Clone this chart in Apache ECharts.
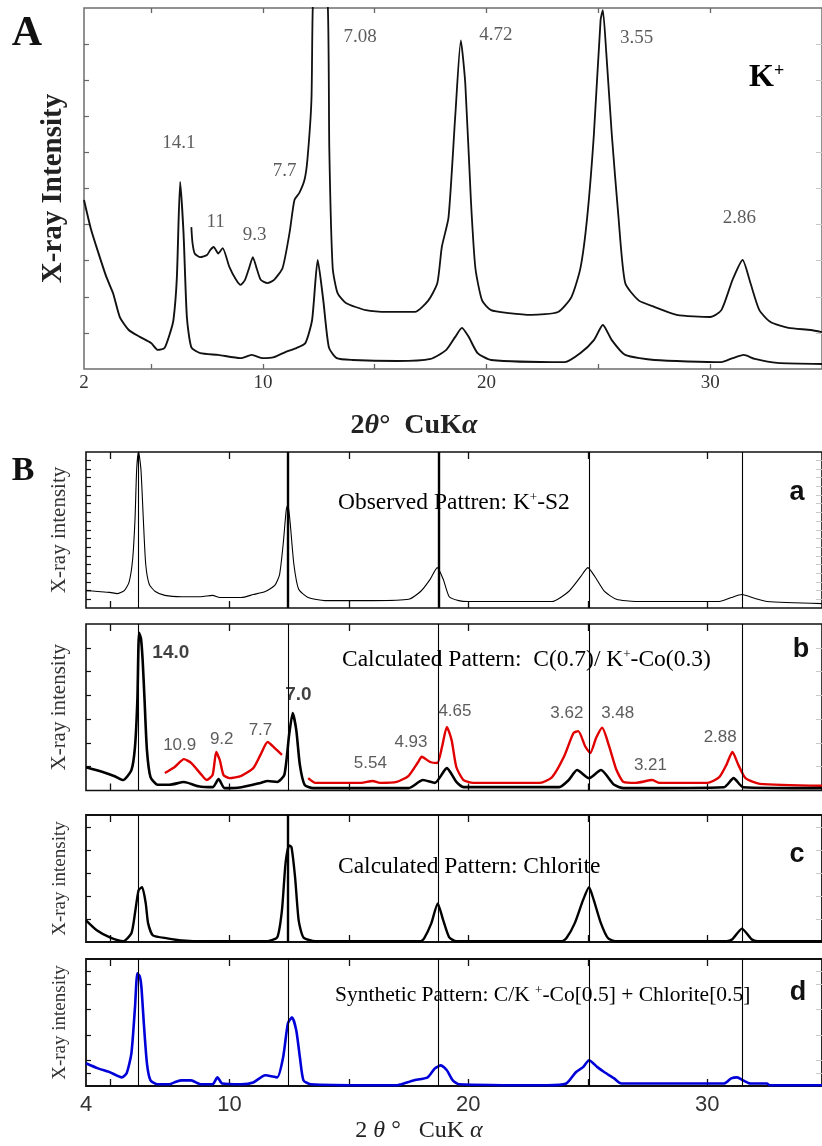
<!DOCTYPE html>
<html><head><meta charset="utf-8">
<script src="https://cdn.jsdelivr.net/npm/echarts@6/dist/echarts.min.js"></script>
<style>html,body{margin:0;padding:0;background:#fff}#c{width:822px;height:1146px}</style>
</head><body><div id="c"></div>
<script>
// ---------------- DATA ----------------
// Panel A: 2theta (deg) vs intensity (0-100 scale)
const A_lower = [[2.0,46.8],[2.3,39],[2.6,33],[3.0,25.5],[3.3,21],[3.6,14.4],[4.0,10.8],[4.5,8.9],[5.0,7.2],[5.3,5.3],[5.6,5.8],[5.85,10],[6.0,13.6],[6.15,25],[6.3,51.8],[6.45,37.7],[6.6,14.4],[6.8,6],[7.2,4.4],[8.0,3.9],[9.0,3],[9.5,3.9],[10.0,3],[10.5,3.3],[11.0,4.7],[11.5,5.8],[11.9,7.2],[12.2,13.6],[12.45,30.2],[12.7,19],[12.95,6],[13.3,3],[14,2.5],[16,2.2],[17.5,2.8],[18.2,5.3],[18.6,8.9],[18.9,11.4],[19.2,8.9],[19.6,4.4],[20.2,2.5],[23.5,1.9],[24.2,4.4],[24.8,8],[25.2,12.2],[25.6,8],[26.2,3.9],[27.5,2.5],[30.5,1.9],[31.0,3],[31.5,3.9],[32.0,2.8],[33,1.7],[35,1.4]];
const A_upper = [[6.8,39.3],[6.85,35],[6.95,32],[7.2,31],[7.5,31.6],[7.65,33],[7.8,33.8],[8.0,32],[8.2,33.5],[8.5,28.3],[8.8,24.7],[9.0,23.3],[9.2,24.7],[9.4,28.3],[9.55,31],[9.7,28.3],[9.9,24.7],[10.2,23.8],[10.5,24.7],[10.88,28],[11.19,37.7],[11.41,46.8],[11.63,48.8],[11.86,52.4],[11.99,58],[12.17,74.5],[12.23,100],[12.5,130],[12.9,101],[12.97,60.6],[13.12,28],[13.34,21],[13.71,18.3],[14.6,16.3],[15.6,15.8],[16.8,15.8],[17.4,19],[17.8,23.8],[18.0,33.8],[18.3,42],[18.6,70],[18.85,91],[19.05,79],[19.3,46.8],[19.5,28],[19.8,19],[20.2,16.3],[21,15.5],[22,15],[23.2,15.8],[23.8,20],[24.2,28],[24.5,42],[24.8,65],[25.1,96.7],[25.2,99.4],[25.35,88],[25.6,65],[25.9,42],[26.2,23.8],[26.8,19],[27.5,17.2],[28.5,15],[30.0,14.4],[30.5,16.3],[31.0,24.7],[31.45,30.2],[31.8,23.8],[32.2,16.3],[32.7,13],[33.5,11.4],[34.5,10.8],[35,10.2]];
const A_peakLabels = [['14.1',6.24,62.6],['11',7.89,40.7],['9.3',9.63,37.1],['7.7',10.97,54.8],['7.08',14.35,92.0],['4.72',20.42,92.5],['3.55',26.71,91.7],['2.86',31.3,41.8]];
const A_xTicks = [5,10,15,20,25,30];
const A_xLabels = [2,10,20,30];
const A_yTicks = [10,20,30,40,50,60,70,80,90];

// Panel B
const B_xTicks = [5,10,15,20,25,30];
const B_xLabels = [4,10,20,30];
const B_refLines = [6.2,12.45,18.75,25.05,31.45];
const Ba_observed = [[4.0,0.40],[4.5,0.38],[5.0,0.36],[5.3,0.33],[5.6,0.40],[5.8,0.59],[5.95,1.11],[6.05,2.03],[6.12,3.18],[6.2,3.6],[6.3,3.18],[6.4,2.03],[6.5,1.0],[6.65,0.54],[6.9,0.38],[7.3,0.29],[8.0,0.26],[8.8,0.26],[9.3,0.29],[9.6,0.24],[10.5,0.24],[11.0,0.31],[11.5,0.38],[11.9,0.52],[12.1,0.77],[12.25,1.46],[12.38,2.26],[12.45,2.38],[12.55,1.92],[12.7,1.0],[12.9,0.43],[13.3,0.24],[14,0.17],[16,0.17],[17.5,0.2],[18.0,0.38],[18.4,0.66],[18.7,0.93],[18.95,0.66],[19.2,0.26],[19.6,0.17],[20,0.15],[23.5,0.15],[24.2,0.38],[24.7,0.72],[25.0,0.93],[25.3,0.72],[25.7,0.38],[26.2,0.2],[27,0.15],[30.5,0.15],[31.0,0.24],[31.45,0.31],[32.0,0.22],[32.5,0.15],[34.8,0.1]];
const Bb_calc = [[4.0,0.49],[4.7,0.39],[5.2,0.3],[5.55,0.22],[5.9,0.43],[6.05,0.92],[6.15,1.91],[6.22,3.32],[6.3,3.2],[6.37,2.75],[6.45,1.91],[6.55,0.85],[6.7,0.28],[7.0,0.12],[7.5,0.12],[8.1,0.18],[8.7,0.09],[9.3,0.07],[9.55,0.24],[9.8,0.05],[10.5,0.07],[11.3,0.16],[11.6,0.2],[12.0,0.18],[12.3,0.33],[12.5,1.17],[12.65,1.63],[12.8,1.27],[12.95,0.54],[13.15,0.12],[13.5,0.05],[17.5,0.05],[18.1,0.22],[18.6,0.16],[19.1,0.47],[19.5,0.18],[19.8,0.07],[23.8,0.07],[24.2,0.22],[24.55,0.43],[25.05,0.26],[25.55,0.43],[26.1,0.12],[26.5,0.05],[30.7,0.07],[31.1,0.26],[31.5,0.07],[34.8,0.05]];
const Bb_red1 = [[7.3,0.37],[7.7,0.49],[8.1,0.66],[8.4,0.58],[8.8,0.35],[9.05,0.22],[9.3,0.33],[9.45,0.81],[9.6,0.64],[9.75,0.33],[10.0,0.26],[10.5,0.31],[11.0,0.47],[11.3,0.75],[11.6,1.02],[11.9,0.89],[12.2,0.75]];
const Bb_red2 = [[13.3,0.26],[13.6,0.16],[15.5,0.16],[16.0,0.2],[16.3,0.16],[17.0,0.18],[17.5,0.31],[17.9,0.6],[18.05,0.71],[18.4,0.6],[18.7,0.58],[18.9,0.92],[19.1,1.34],[19.3,1.06],[19.5,0.49],[19.8,0.22],[20.2,0.16],[23.0,0.16],[23.5,0.28],[24.0,0.71],[24.4,1.21],[24.6,1.25],[24.9,0.92],[25.1,0.79],[25.35,1.11],[25.6,1.32],[25.9,0.92],[26.2,0.43],[26.5,0.18],[27.0,0.16],[27.7,0.22],[28,0.16],[30.0,0.16],[30.5,0.28],[30.8,0.54],[31.05,0.81],[31.3,0.54],[31.6,0.26],[32.2,0.14],[34.8,0.1]];
const Bb_peakLabels = [['14.0',7.55,2.89,true],['7.0',12.89,2.01,true],['10.9',7.92,0.96],['9.2',9.68,1.08],['7.7',11.3,1.27],['5.54',15.9,0.58],['4.93',17.6,1.02],['4.65',19.44,1.67],['3.62',24.12,1.63],['3.48',26.25,1.63],['3.21',27.62,0.54],['2.88',30.54,1.11]];
const Bc_chlorite = [[4.0,0.94],[4.45,0.51],[5.0,0.2],[5.55,0.03],[5.9,0.38],[6.05,1.25],[6.2,2.25],[6.35,2.38],[6.5,1.68],[6.6,0.81],[6.8,0.29],[7.4,0.16],[8.0,0.07],[9.0,0.03],[11.5,0.03],[12.0,0.2],[12.2,1.38],[12.35,3.42],[12.5,4.2],[12.6,4.12],[12.75,2.81],[12.9,0.94],[13.1,0.2],[13.6,0.03],[18.0,0.03],[18.15,0.16],[18.45,0.81],[18.72,1.68],[18.95,0.94],[19.2,0.2],[19.5,0.03],[23.9,0.03],[24.1,0.16],[24.45,0.81],[24.8,1.82],[25.05,2.38],[25.25,1.82],[25.55,0.81],[25.85,0.16],[26.2,0.03],[30.8,0.03],[31.05,0.12],[31.45,0.58],[31.85,0.12],[32.1,0.03],[34.8,0.03]];
const Bd_synthetic = [[4.0,0.89],[4.5,0.69],[5.0,0.54],[5.5,0.34],[5.7,0.5],[5.9,1.28],[6.05,3.08],[6.15,4.42],[6.25,4.3],[6.32,3.87],[6.42,2.46],[6.55,0.89],[6.7,0.22],[7.0,0.07],[7.5,0.07],[7.8,0.18],[8.0,0.22],[8.4,0.22],[8.8,0.07],[9.3,0.07],[9.5,0.34],[9.7,0.1],[10.5,0.07],[11.0,0.14],[11.5,0.42],[12.0,0.34],[12.25,1.13],[12.45,2.46],[12.62,2.69],[12.8,2.18],[12.95,1.13],[13.1,0.22],[13.4,0.07],[16,0.03],[17.0,0.03],[17.3,0.1],[17.7,0.22],[18.3,0.34],[18.6,0.69],[18.85,0.81],[19.1,0.62],[19.35,0.22],[19.6,0.07],[23.3,0.03],[24.1,0.1],[24.5,0.54],[24.8,0.74],[25.05,1.01],[25.4,0.74],[25.7,0.54],[26.1,0.3],[26.4,0.1],[30.7,0.1],[31.0,0.3],[31.25,0.34],[31.5,0.22],[31.8,0.1],[32.5,0.1],[32.6,0.03],[34.8,0.03]];
const Ba_yTicks = [0.2,0.4,0.6,0.8,1,1.2,1.4,1.6,1.8,2,2.2,2.4,2.6,2.8,3,3.2,3.4];
const Bb_yTicks = [0.5,1,1.5,2,2.5,3];
const Bc_yTicks = [1,2,3,4,5];
const Bd_yTicks = [0.5,1,2,3,4,4.5];

// ---------------- BUILD ----------------
const FS = '"Liberation Serif","Times New Roman",serif';
const FA = '"Liberation Sans",Arial,sans-serif';

const grids = [
  {left:84, top:8, width:740, height:361, show:true, borderColor:'#6e6e6e', borderWidth:1.5},
  {left:86, top:452, width:738, height:156, show:true, borderColor:'#111', borderWidth:1.6},
  {left:86, top:624, width:738, height:166.5, show:true, borderColor:'#111', borderWidth:1.6},
  {left:86, top:815, width:738, height:127, show:true, borderColor:'#111', borderWidth:1.8},
  {left:86, top:959, width:738, height:127, show:true, borderColor:'#111', borderWidth:1.8}
];

const xAxes = [], yAxes = [];
function addX(gi, min, max, ticks, labels, lblStyle, name, nameStyle, nameGap, tickColor, tickLen){
  xAxes.push({type:'value', gridIndex:gi, position:'bottom', min, max,
    axisLine:{show:false, onZero:false}, splitLine:{show:false},
    axisTick:{show:true, inside:true, length:tickLen, customValues:ticks, lineStyle:{color:tickColor,width:1.3}},
    axisLabel: labels ? Object.assign({show:true, customValues:labels}, lblStyle) : {show:false},
    name: name||'', nameLocation:'middle', nameGap: nameGap||0, nameTextStyle: nameStyle||{}});
  xAxes.push({type:'value', gridIndex:gi, position:'top', min, max,
    axisLine:{show:false, onZero:false}, splitLine:{show:false},
    axisTick:{show:true, inside:true, length:tickLen, customValues:ticks, lineStyle:{color:tickColor,width:1.3}},
    axisLabel:{show:false}});
}
function addY(gi, max, ticks, name, nameStyle, nameGap, tickColor){
  yAxes.push({type:'value', gridIndex:gi, position:'left', min:0, max,
    axisLine:{show:false, onZero:false}, splitLine:{show:false},
    axisTick:{show:true, inside:true, length:5, customValues:ticks, lineStyle:{color:tickColor,width:1.2}},
    axisLabel:{show:false},
    name, nameLocation:'middle', nameGap, nameTextStyle:nameStyle});
  yAxes.push({type:'value', gridIndex:gi, position:'right', min:0, max,
    axisLine:{show:false, onZero:false}, splitLine:{show:false},
    axisTick:{show:true, inside:true, length:6, customValues:ticks, lineStyle:{color:'#c8c8c8',width:1}},
    axisLabel:{show:false}});
}

// Panel A axes
addX(0, 2, 35, A_xTicks, A_xLabels, {margin:5, fontFamily:FS, fontSize:19, color:'#333'},
  '{n|2}{i|θ}{n|°  CuK}{i|α}', {padding:[0,78,0,0], rich:{n:{fontFamily:FS,fontSize:28,fontWeight:'bold',color:'#222'},i:{fontFamily:FS,fontSize:28,fontWeight:'bold',fontStyle:'italic',color:'#222'}}}, 43, '#666', 5);
addY(0, 100, A_yTicks, 'X-ray Intensity', {fontFamily:FS, fontSize:29, fontWeight:'bold', color:'#222'}, 16, '#666');

// Panel B axes
const bMax = [3.59, 3.505, 5.52, 4.98];
const bTicks = [Ba_yTicks, Bb_yTicks, Bc_yTicks, Bd_yTicks];
for (let k=0;k<4;k++){
  const gi = k+1;
  if (k===3){
    addX(gi, 4, 34.8, B_xTicks, B_xLabels, {margin:8, fontFamily:FA, fontSize:22, color:'#333'},
      '{n|2 }{i|θ}{n| °   CuK }{i|α}', {padding:[0,70,0,0], rich:{n:{fontFamily:FS,fontSize:24,color:'#222'},i:{fontFamily:FS,fontSize:24,fontStyle:'italic',color:'#222'}}}, 33, '#111', 7);
  } else {
    addX(gi, 4, 34.8, B_xTicks, null, null, null, null, 0, '#111', 7);
  }
  addY(gi, bMax[k], bTicks[k], 'X-ray intensity', {fontFamily:FS, fontSize: k<2?21:19, color:'#333'}, 16, '#111');
}

function line(gi, data, color, width, extra){
  return Object.assign({type:'line', xAxisIndex:2*gi, yAxisIndex:2*gi, data, symbol:'none', showSymbol:false,
    smooth:0.2, clip:true, lineStyle:{color, width}, silent:true, animation:false, z:3}, extra||{});
}
function vlines(thick){
  return {symbol:'none', silent:true, animation:false, label:{show:false},
    data: B_refLines.map((v,i)=>({xAxis:v, lineStyle:{color:'#000', type:'solid', width: thick.indexOf(i)>=0?2.4:1.1}}))};
}
function labels(gi, arr, style){
  return {type:'scatter', xAxisIndex:2*gi, yAxisIndex:2*gi, symbolSize:0, silent:true, animation:false, z:5,
    data: arr.map(a=>({name:a[0], value:[a[1],a[2]], label: a[3]?{fontWeight:'bold',fontSize:19,color:'#111'}:undefined})),
    label:Object.assign({show:true, position:'inside', formatter:'{b}'}, style)};
}

const series = [
  line(0, A_lower, '#111', 1.9),
  line(0, A_upper, '#111', 1.8),
  labels(0, A_peakLabels, {fontFamily:FS, fontSize:19, color:'#333'}),
  line(1, Ba_observed, '#000', 1.1, {markLine:vlines([1,2])}),
  line(2, Bb_red1, '#e00000', 2.4),
  line(2, Bb_red2, '#e00000', 2.4),
  line(2, Bb_calc, '#000', 2.6, {z:4, markLine:vlines([])}),
  labels(2, Bb_peakLabels, {fontFamily:FA, fontSize:17, color:'#333'}),
  line(3, Bc_chlorite, '#000', 2.4, {markLine:vlines([1])}),
  line(4, Bd_synthetic, '#0000d8', 2.6, {markLine:vlines([])})
];

const cap = {n:{fontFamily:FS, fontSize:23.5, color:'#222'}, s:{fontFamily:FS, fontSize:13, color:'#222', verticalAlign:'top', lineHeight:13}};
function txt(x,y,text,style,align){
  return {type:'text', x, y, silent:true, style:Object.assign({text, align:align||'left', verticalAlign:'middle'}, style)};
}
const graphics = [
  txt(27,34,'A',{font:'bold 42px '+FS, fill:'#111'},'center'),
  txt(23,471,'B',{font:'bold 34px '+FS, fill:'#111'},'center'),
  txt(749,78,'{k|K}{s|+}',{rich:{k:{fontFamily:FS,fontSize:32,fontWeight:'bold',color:'#111'},s:{fontFamily:FS,fontSize:18,fontWeight:'bold',color:'#111',verticalAlign:'top',lineHeight:16}}}),
  txt(338,503,'{n|Observed Pattren: K}{s|+}{n|-S2}',{rich:cap}),
  txt(342,660,'{n|Calculated Pattern:  C(0.7)/ K}{s|+}{n|-Co(0.3)}',{rich:cap}),
  txt(338,867,'{n|Calculated Pattern: Chlorite}',{rich:cap}),
  txt(335,995,'{n|Synthetic Pattern: C/K }{s|+}{n|-Co[0.5] + Chlorite[0.5]}',{rich:{n:{fontFamily:FS,fontSize:21.5,color:'#222'},s:cap.s}}),
  txt(797,493,'a',{font:'bold 27px '+FA, fill:'#111'},'center'),
  txt(801,650,'b',{font:'bold 27px '+FA, fill:'#111'},'center'),
  txt(797,855,'c',{font:'bold 27px '+FA, fill:'#111'},'center'),
  txt(798,993,'d',{font:'bold 27px '+FA, fill:'#111'},'center')
];

const chart = echarts.init(document.getElementById('c'), null, {renderer:'canvas'});
chart.setOption({
  backgroundColor:'#fff', animation:false,
  grid: grids, xAxis: xAxes, yAxis: yAxes, series, graphic: graphics
});
</script></body></html>
